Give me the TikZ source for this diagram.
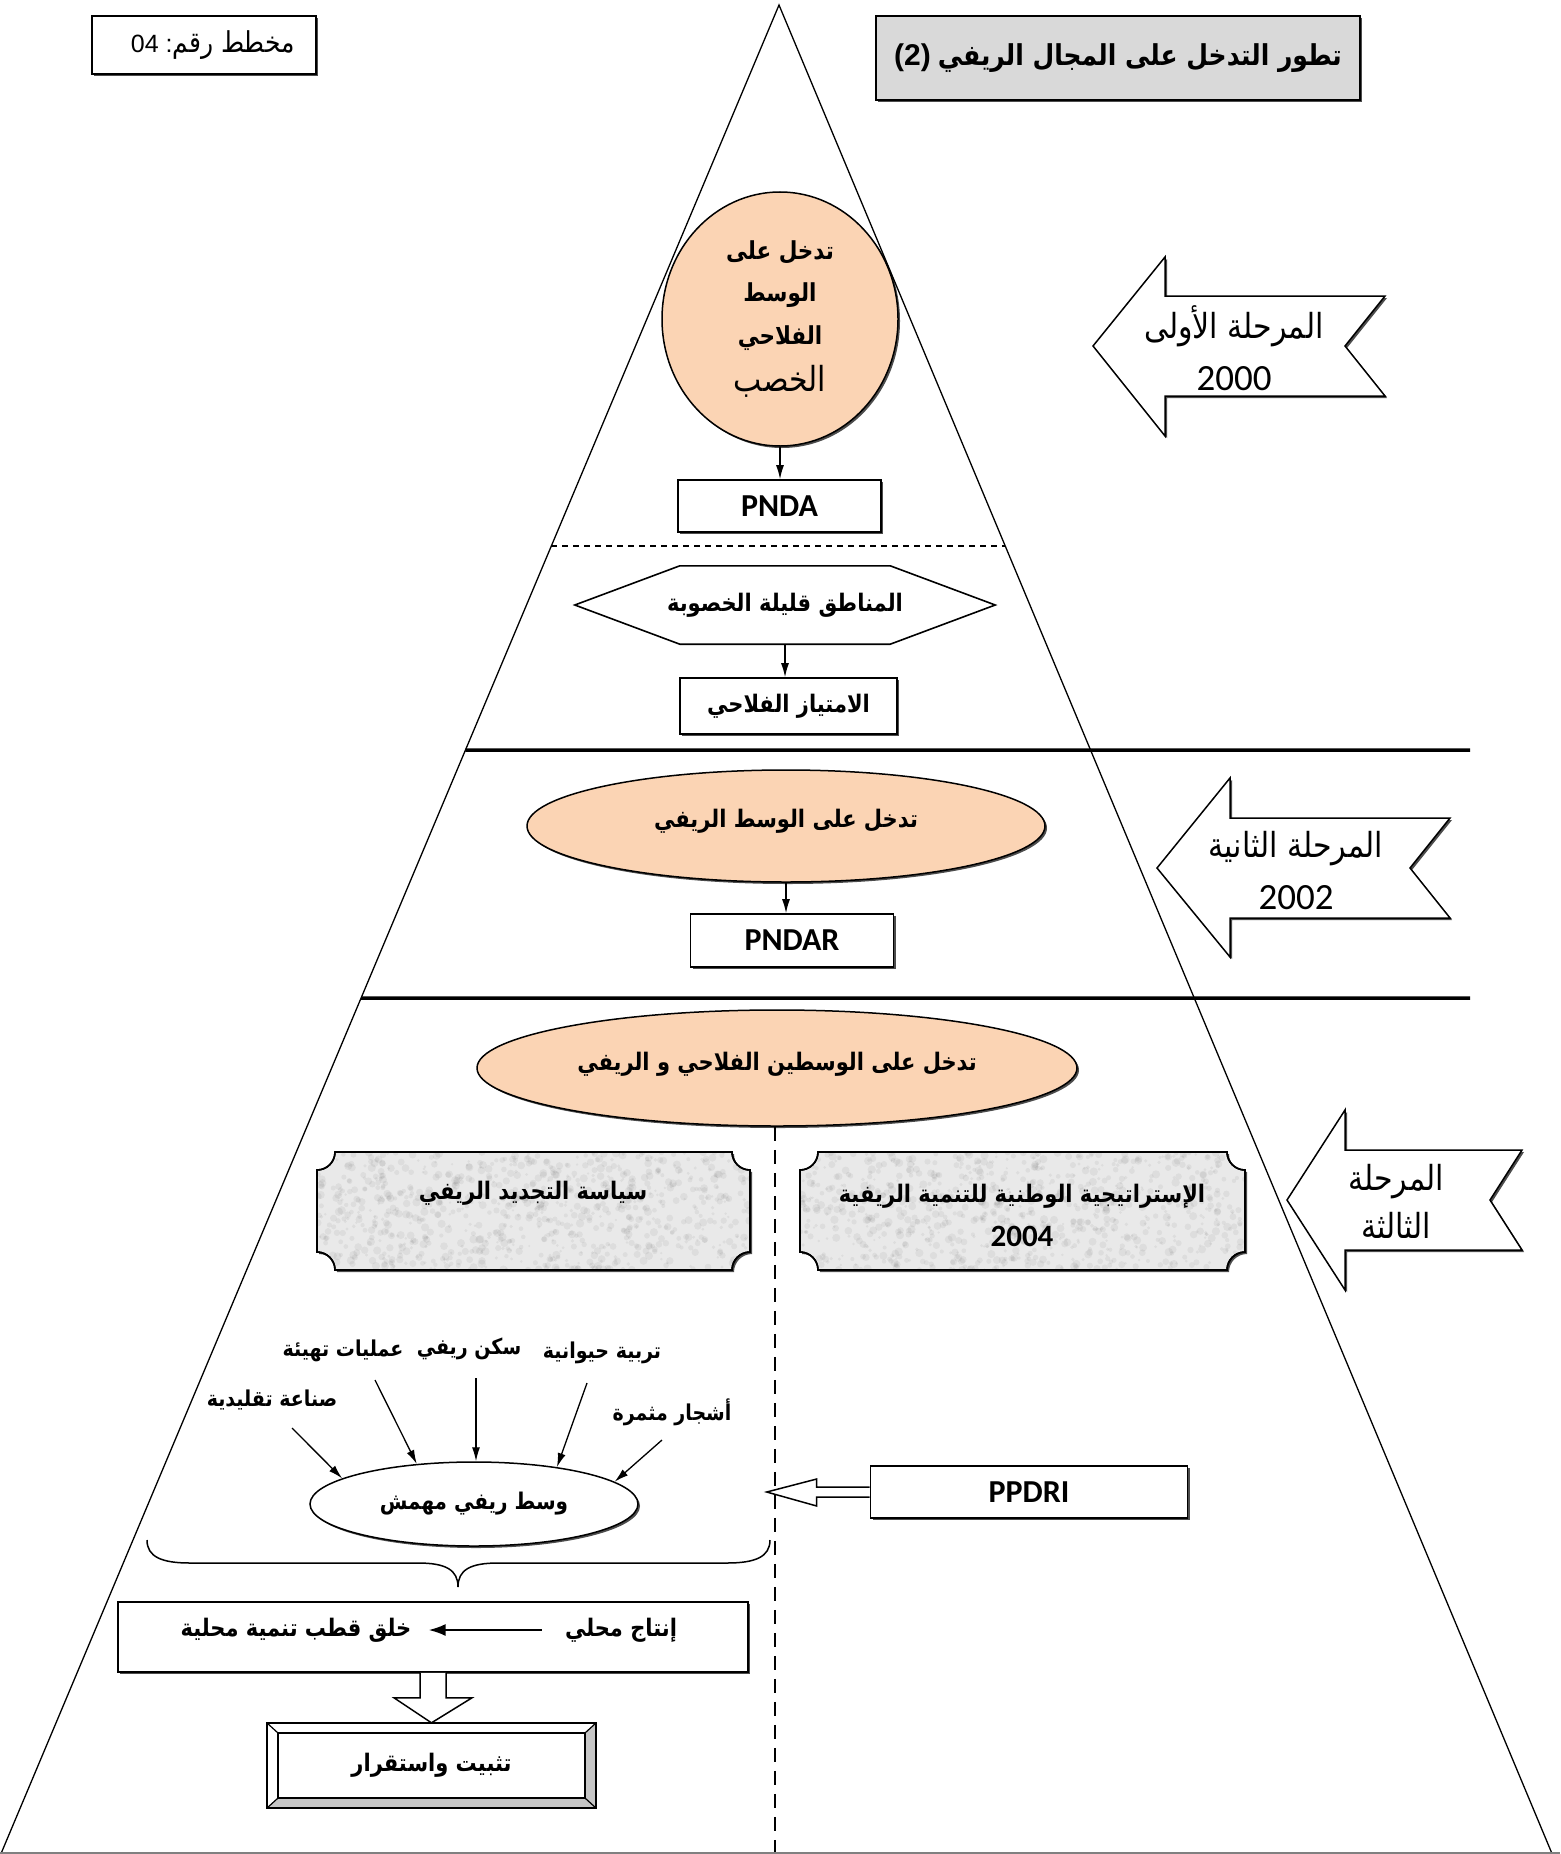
\documentclass[tikz,border=0pt]{standalone}
\usepackage{graphicx}
\usepackage{fontspec}
\setmainfont{Liberation Sans}
\newfontfamily\arf[Script=Arabic]{DejaVu Sans}
\newfontfamily\calf{Carlito}
\TeXXeTstate=1
\usetikzlibrary{arrows.meta,shadows,calc,shapes.geometric}
\newcommand{\AR}[1]{\scalebox{1}[1.15]{\arf\beginR #1\endR}}
\newcommand{\fsz}[2]{\fontsize{#1}{#2}\selectfont}
\newcommand{\plq}[4]{(#1+18,#2) -- (#3-18,#2) arc[start angle=180,end angle=90,radius=18] -- (#3,#4-18) arc[start angle=270,end angle=180,radius=18] -- (#1+18,#4) arc[start angle=0,end angle=-90,radius=18] -- (#1,#2+18) arc[start angle=90,end angle=0,radius=18] -- cycle}
\newcommand{\grain}[4]{%
  \begin{scope}
    \clip \plq{#1}{#2}{#3}{#4};
    \foreach \i in {1,...,900}{%
      \pgfmathsetmacro\px{#1+(#3-#1)*rnd}%
      \pgfmathsetmacro\py{#2+(#4-#2)*rnd}%
      \pgfmathsetmacro\pr{1.2+3*rnd}%
      \fill[black,opacity=0.05] (\px,\py) circle[radius=\pr];}
  \end{scope}}
\definecolor{peach}{HTML}{FBD4B4}
\definecolor{titlegray}{HTML}{D9D9D9}
\definecolor{plaquegray}{HTML}{E9E9E9}
\begin{document}
\begin{tikzpicture}[x=1pt,y=-1pt,
  shd/.style={drop shadow={shadow xshift=2pt,shadow yshift=-2pt,opacity=0.7,fill=black}},
  boxstyle/.style={draw,line width=1.6pt,fill=white,rectangle,inner sep=0pt,shd},
  ellstyle/.style={ellipse,draw,line width=1.5pt,inner sep=0pt,shd},
  arr/.style={-{Latex[length=14pt,width=8pt]},line width=1.3pt},
  bold ar/.style={font=\fsz{21}{26}\bfseries},
  label ar/.style={font=\fsz{19}{22}\bfseries,inner sep=1pt},
  latin bold/.style={font=\fsz{32}{34}\calf\bfseries},
  stagearrow/.style={draw,line width=1.5pt,fill=white,shd},
  stagetext/.style={font=\fsz{30}{52},align=center},
  thickline/.style={line width=3.5pt},
]
\useasboundingbox (0,0) rectangle (1560,1854);
\fill[white] (0,0) rectangle (1560,1854);
\pgfmathsetseed{7}

% ---- triangle corners
\coordinate (apex) at (779,5);
\coordinate (bl) at (0,1856);
\coordinate (br) at (1553,1856);

% ---- header boxes
\node[boxstyle,minimum width=224pt,minimum height=58pt] (num) at (204,45)
  {\hspace*{18pt}\raisebox{-3pt}{\fsz{25}{28}04 :\AR{مخطط رقم}}};
\node[draw,line width=2pt,fill=titlegray,minimum width=484pt,minimum height=84pt,inner sep=0pt,shd] (title) at (1118,58)
  {\raisebox{4pt}{\fsz{25}{32}\bfseries {\fsz{30}{32}(2)} \AR{تطور التدخل على المجال الريفي}}};

% ---- stage 1 (first phase)
\node[ellstyle,fill=peach,minimum width=236pt,minimum height=254pt,align=center,font=\fsz{21.5}{42.5}\bfseries] (e1) at (780,319)
  {\AR{تدخل على}\\ \AR{الوسط}\\ \AR{الفلاحي}\\[5pt] {\mdseries\fsz{30}{42.5}\AR{الخصب}}};
\node[boxstyle,minimum width=203pt,minimum height=52pt,latin bold] (pnda) at (779.5,506) {PNDA};
\draw[arr] (e1.south) -- (e1.south |- pnda.north);

\coordinate (dl) at ($(apex)!0.2923!(bl)$);
\coordinate (dr) at ($(apex)!0.2923!(br)$);
\draw[line width=2.2pt,dash pattern=on 6pt off 5pt] (dl) -- (dr);

\node[minimum width=420pt,minimum height=78pt,inner sep=0pt,bold ar] (hex) at (785,605)
  {\AR{المناطق قليلة الخصوبة}};
\draw[line width=1.6pt] (hex.west) -- ($(hex.north west)+(105,0)$) -- ($(hex.north east)+(-105,0)$) -- (hex.east)
  -- ($(hex.south east)+(-105,0)$) -- ($(hex.south west)+(105,0)$) -- cycle;
\node[boxstyle,minimum width=217pt,minimum height=56pt,bold ar] (priv) at (788.5,706) {\AR{الامتياز الفلاحي}};
\draw[arr] (hex.south) -- (hex.south |- priv.north);

\coordinate (t1l) at ($(apex)!0.4025!(bl)$);
\coordinate (t1r) at (1470,750);
\draw[thickline] (t1l) -- (t1r);

% ---- stage 2
\node[ellstyle,fill=peach,minimum width=518pt,minimum height=112pt,bold ar] (e2) at (786,826)
  {\raisebox{15pt}{\makebox[0pt]{\AR{تدخل على الوسط الريفي}}}};
\node[boxstyle,minimum width=203pt,minimum height=53pt,latin bold] (pndar) at (792,940.5) {\raisebox{-3pt}{PNDAR}};
\draw[arr] (e2.south) -- (e2.south |- pndar.north);

\coordinate (t2l) at ($(apex)!0.5365!(bl)$);
\coordinate (t2r) at (1470,998);
\draw[thickline] (t2l) -- (t2r);

% ---- stage 3
\node[ellstyle,fill=peach,minimum width=600pt,minimum height=116pt,bold ar] (e3) at (777,1068)
  {\raisebox{13pt}{\makebox[0pt]{\AR{تدخل على الوسطين الفلاحي و الريفي}}}};
\coordinate (vbot) at (775,1854);
\draw[line width=2.4pt,dash pattern=on 14pt off 9pt] (e3.south -| vbot) -- (vbot);

\filldraw[line width=1.6pt,fill=plaquegray,shd] \plq{317}{1152}{750}{1270};
\grain{317}{1152}{750}{1270}
\draw[line width=1.6pt] \plq{317}{1152}{750}{1270};
\filldraw[line width=1.6pt,fill=plaquegray,shd] \plq{800}{1152}{1245}{1270};
\grain{800}{1152}{1245}{1270}
\draw[line width=1.6pt] \plq{800}{1152}{1245}{1270};
\node[bold ar,inner sep=0pt] (pl1) at (533,1193) {\AR{سياسة التجديد الريفي}};
\node[inner sep=0pt,align=center,font=\fsz{21}{44}\bfseries] (pl2) at (1022,1215)
  {\AR{الإستراتيجية الوطنية للتنمية الريفية}\\ {\calf\fsz{31}{44}2004}};

% ---- marginalised rural area
\node[ellstyle,fill=white,minimum width=328pt,minimum height=84pt,font=\fsz{20}{24}\bfseries] (e4) at (474,1504) {\AR{وسط ريفي مهمش}};
\node[label ar] (l1) at (602,1353) {\AR{تربية حيوانية}};
\node[label ar] (l2) at (469,1349) {\AR{سكن ريفي}};
\node[label ar] (l3) at (343,1351) {\AR{عمليات تهيئة}};
\node[label ar] (l4) at (272,1400) {\AR{صناعة تقليدية}};
\node[label ar] (l5) at (672,1412) {\AR{أشجار مثمرة}};
\coordinate (s1) at (587,1383);
\coordinate (s2) at (476,1378);
\coordinate (s3) at (375,1380);
\coordinate (s4) at (292,1428);
\coordinate (s5) at (662,1440);
\draw[arr] (s1) -- (e4.24.8);
\draw[arr] (s2) -- (s2 |- e4.north);
\draw[arr] (s3) -- (e4.145.6);
\draw[arr] (s4) -- (e4.169.5);
\draw[arr] (s5) -- (e4.9.3);

% ---- PPDRI
\node[boxstyle,minimum width=317pt,minimum height=52pt,latin bold] (ppdri) at (1029,1492) {PPDRI};
\draw[line width=1.5pt,fill=white] ($(ppdri.west)+(0,-5)$) -- ($(ppdri.west)+(-53,-5)$) -- ($(ppdri.west)+(-53,-13)$)
  -- ($(ppdri.west)+(-103,0)$) -- ($(ppdri.west)+(-53,14)$) -- ($(ppdri.west)+(-53,5)$) -- ($(ppdri.west)+(0,5)$);

% ---- brace
\coordinate (brl) at (147,1540);
\coordinate (brr) at (770,1540);
\coordinate (brt) at (458,1587);
\draw[line width=1.5pt] (brl) .. controls (147,1557) and (162,1563) .. (190,1563) -- (418,1563)
  .. controls (446,1563) and (458,1570) .. (brt) .. controls (458,1570) and (470,1563) .. (498,1563)
  -- (727,1563) .. controls (755,1563) and (770,1557) .. (brr);

% ---- local production box
\node[boxstyle,minimum width=630pt,minimum height=70pt] (prod) at (433,1637) {};
\node[bold ar,inner sep=0pt] (prA) at (621,1630) {\AR{إنتاج محلي}};
\node[bold ar,inner sep=0pt] (prB) at (296,1630) {\AR{خلق قطب تنمية محلية}};
\draw[-{Latex[length=17pt,width=12pt]},line width=2pt,shorten <=23pt,shorten >=17pt] (prA.west) -- (prB.east);

% ---- final box
\node[minimum width=329pt,minimum height=85pt,inner sep=0pt] (fin) at (431.5,1765.5) {};
\draw[line width=1.5pt,fill=white] ($(prod.south)+(-13,0)$) -- ($(prod.south)+(-13,25)$) -- ($(prod.south)+(-39,25)$)
  -- (fin.north) -- ($(prod.south)+(39,25)$) -- ($(prod.south)+(13,25)$) -- ($(prod.south)+(13,0)$);
\fill[gray!45] (fin.north east) -- (fin.south east) -- ($(fin.south east)+(-11,-10)$) -- ($(fin.north east)+(-11,10)$) -- cycle;
\fill[gray!45] (fin.south west) -- (fin.south east) -- ($(fin.south east)+(-11,-10)$) -- ($(fin.south west)+(11,-10)$) -- cycle;
\draw[line width=1.5pt] (fin.north west) rectangle (fin.south east);
\draw[line width=1.2pt] (fin.north west) -- ($(fin.north west)+(11,10)$)
  (fin.north east) -- ($(fin.north east)+(-11,10)$)
  (fin.south west) -- ($(fin.south west)+(11,-10)$)
  (fin.south east) -- ($(fin.south east)+(-11,-10)$);
\draw[line width=2.5pt] ($(fin.north west)+(11,10)$) rectangle ($(fin.south east)+(-11,-10)$);
\node[bold ar,inner sep=0pt] (fintext) at (fin) {\AR{تثبيت واستقرار}};

% ---- stage arrows
\draw[stagearrow] (1093,346) -- (1165,257) -- (1165,296) -- (1385,296) -- (1345,346) -- (1385,396) -- (1165,396) -- (1165,436) -- cycle;
\node[stagetext] (st1) at (1234,348) {\AR{المرحلة الأولى}\\ {\calf\fsz{37}{52}2000}};
\draw[stagearrow] (1157,868) -- (1230,778) -- (1230,818) -- (1450,818) -- (1410,868) -- (1450,918) -- (1230,918) -- (1230,957) -- cycle;
\node[stagetext] (st2) at (1296,871) {\AR{المرحلة الثانية}\\ {\calf\fsz{37}{52}2002}};
\draw[stagearrow] (1287,1200) -- (1345,1110) -- (1345,1150) -- (1522,1150) -- (1490,1200) -- (1522,1250) -- (1345,1250) -- (1345,1290) -- cycle;
\node[stagetext,font=\fsz{30}{48}] (st3) at (1396,1201) {\AR{المرحلة}\\ \AR{الثالثة}};

% ---- triangle and bottom line
\draw[line width=1.3pt] (bl) -- (apex) -- (br);
\draw[gray,line width=2pt] (0,1853) -- (1560,1853);
\end{tikzpicture}
\end{document}
